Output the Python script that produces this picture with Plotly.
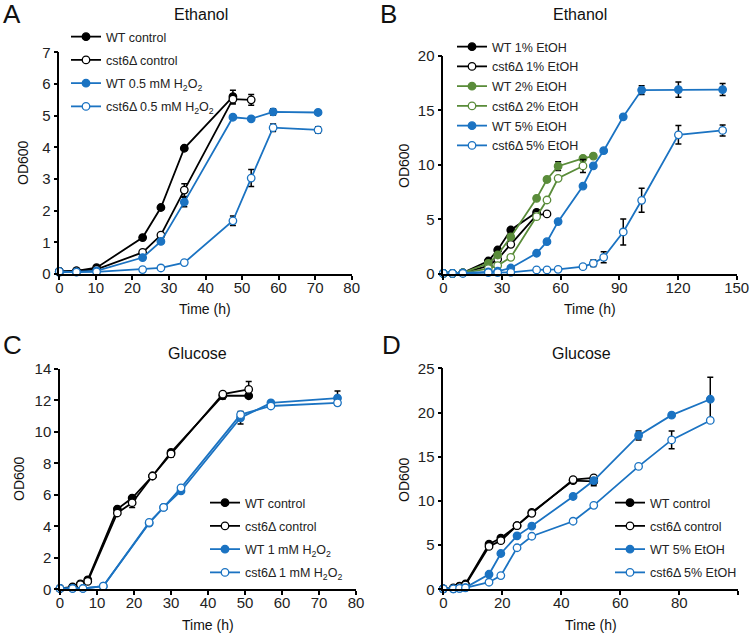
import plotly.graph_objects as go

# ---------------- data ----------------
# Panel A (Ethanol, H2O2)
tA_wt_ctrl = [0, 4.7, 10.2, 22.8, 27.8, 34.2, 47.5]
odA_wt_ctrl = [0.08, 0.1, 0.2, 1.15, 2.1, 3.97, 5.6]
eA_wt_ctrl = [0, 0, 0, 0, 0, 0, 0.2]
tA_cst_ctrl = [0, 4.7, 10.2, 22.8, 27.8, 34.2, 47.5, 52.5]
odA_cst_ctrl = [0.08, 0.1, 0.15, 0.68, 1.23, 2.65, 5.52, 5.5]
eA_cst_ctrl = [0, 0, 0, 0, 0, 0.2, 0.15, 0.17]
tA_h = [0, 4.7, 10.2, 22.8, 27.8, 34.2, 47.5, 52.5, 58.5, 70.8]
odA_wt_h = [0.05, 0.07, 0.1, 0.52, 1.03, 2.27, 4.95, 4.9, 5.12, 5.1]
eA_wt_h = [0, 0, 0, 0, 0, 0.15, 0, 0.05, 0.1, 0]
odA_cst_h = [0.08, 0.06, 0.07, 0.14, 0.19, 0.36, 1.68, 3.03, 4.62, 4.55]
eA_cst_h = [0, 0, 0, 0, 0, 0, 0.15, 0.27, 0.12, 0.1]

# Panel B (Ethanol, EtOH %)
tB = [0, 4.7, 10, 23, 27.8, 34.5, 47.7, 53, 58.7, 71.4, 76.7, 82, 92, 101.4, 120.2, 142.8]
odB_wt1 = [0.05, 0.05, 0.1, 1.19, 2.2, 4.03, 5.65]
odB_cst1 = [0.05, 0.05, 0.1, 0.75, 1.35, 2.72, 5.4, 5.5]
odB_wt2 = [0.05, 0.05, 0.1, 0.98, 1.74, 3.4, 6.93, 8.66, 9.88, 10.6, 10.8]
eB_wt2 = [0, 0, 0, 0, 0, 0, 0, 0, 0.4, 0, 0]
odB_cst2 = [0.05, 0.05, 0.1, 0.5, 0.77, 1.53, 5.25, 6.78, 8.77, 9.9]
eB_cst2 = [0, 0, 0, 0, 0, 0, 0, 0, 0, 0.6]
odB_wt5 = [0.05, 0.05, 0.1, 0.2, 0.25, 0.55, 1.9, 2.96, 4.8, 8.06, 9.9, 11.3, 14.4, 16.85, 16.9, 16.9]
eB_wt5 = [0, 0, 0, 0, 0, 0, 0, 0, 0, 0, 0, 0, 0, 0.4, 0.7, 0.55]
odB_cst5 = [0.05, 0.05, 0.05, 0.12, 0.12, 0.15, 0.37, 0.37, 0.43, 0.67, 0.98, 1.53, 3.85, 6.75, 12.75, 13.15]
eB_cst5 = [0, 0, 0, 0, 0, 0, 0, 0, 0, 0, 0.3, 0.5, 1.2, 1.1, 0.85, 0.5]

# Panel C (Glucose, H2O2)
tC_ctrl = [0, 3.4, 5.5, 7.5, 15.5, 19.5, 25, 30, 44, 51]
odC_wt_ctrl = [0.05, 0.15, 0.35, 0.6, 5.1, 5.8, 7.2, 8.7, 12.3, 12.3]
eC_wt_ctrl = [0, 0, 0, 0, 0, 0, 0, 0.15, 0.2, 0]
odC_cst_ctrl = [0.05, 0.1, 0.3, 0.5, 4.85, 5.5, 7.2, 8.6, 12.4, 12.7]
eC_cst_ctrl = [0, 0, 0, 0, 0, 0.3, 0, 0.2, 0, 0.5]
tC_h = [0, 3.4, 6.2, 11.7, 24.1, 28, 32.7, 48.8, 57, 75]
odC_wt_h = [0.05, 0.05, 0.05, 0.2, 4.2, 5.2, 6.25, 10.9, 11.85, 12.15]
eC_wt_h = [0, 0, 0, 0, 0, 0, 0, 0.4, 0, 0.45]
odC_cst_h = [0.05, 0.05, 0.05, 0.2, 4.25, 5.2, 6.45, 11.1, 11.65, 11.85]
eC_cst_h = [0, 0, 0, 0, 0, 0, 0, 0, 0, 0.15]

# Panel D (Glucose, 5% EtOH)
tD_ctrl = [0, 3.4, 5.5, 7.5, 15.5, 19.5, 25, 30, 44, 51]
odD_wt_ctrl = [0.05, 0.15, 0.35, 0.6, 5.1, 5.8, 7.2, 8.7, 12.3, 12.2]
eD_wt_ctrl = [0, 0, 0, 0, 0, 0, 0, 0, 0, 0.5]
odD_cst_ctrl = [0.05, 0.1, 0.3, 0.5, 4.85, 5.5, 7.2, 8.6, 12.4, 12.6]
tD_e = [0, 3.4, 5.5, 7.5, 15.5, 19.5, 25, 30, 44, 51, 66.2, 77.4, 90.5]
odD_wt_e = [0.05, 0.05, 0.1, 0.2, 1.7, 4.05, 6.05, 7.15, 10.5, 12.3, 17.4, 19.7, 21.5]
eD_wt_e = [0, 0, 0, 0, 0, 0, 0, 0, 0, 0, 0.5, 0, 2.5]
odD_cst_e = [0.05, 0.05, 0.1, 0.15, 0.8, 1.55, 4.7, 6.0, 7.7, 9.5, 13.9, 16.9, 19.1]
eD_cst_e = [0, 0, 0, 0, 0, 0, 0, 0, 0, 0, 0, 1.0, 0]

# ---------------- style ----------------
BLACK = "#000000"
BLUE = "#1b73c2"
GREEN = "#5a8c3a"
FONT = "Liberation Sans, Arial, sans-serif"
W, H = 750, 635

fig = go.Figure()
_gid = [0]


def add(x, y, name, color, filled, ax, legend, err=None):
    n = len(y)
    xs = x[:n]
    _gid[0] += 1
    tr = dict(
        x=xs, y=y, name=name, mode="lines+markers",
        line=dict(color=color, width=1.8),
        marker=dict(symbol="circle", size=7.5,
                    color=color if filled else "white",
                    line=dict(color=color, width=1.3)),
        xaxis="x" + ax, yaxis="y" + ax, legend=legend, cliponaxis=False,
        legendgroup="g%d" % _gid[0],
    )
    if err is not None:
        tr["error_y"] = dict(type="data", array=err, visible=True,
                             color=BLACK, thickness=1.5, width=3)
    fig.add_trace(go.Scatter(**tr))


H2O2 = "H<sub>2</sub>O<sub>2</sub>"
# A
add(tA_wt_ctrl, odA_wt_ctrl, "WT control", BLACK, True, "", "legend", eA_wt_ctrl)
add(tA_cst_ctrl, odA_cst_ctrl, "cst6Δ control", BLACK, False, "", "legend", eA_cst_ctrl)
add(tA_h, odA_wt_h, "WT 0.5 mM " + H2O2, BLUE, True, "", "legend", eA_wt_h)
add(tA_h, odA_cst_h, "cst6Δ 0.5 mM " + H2O2, BLUE, False, "", "legend", eA_cst_h)
# B
add(tB, odB_wt1, "WT 1% EtOH", BLACK, True, "2", "legend2")
add(tB, odB_cst1, "cst6Δ 1% EtOH", BLACK, False, "2", "legend2")
add(tB, odB_wt2, "WT 2% EtOH", GREEN, True, "2", "legend2", eB_wt2)
add(tB, odB_cst2, "cst6Δ 2% EtOH", GREEN, False, "2", "legend2", eB_cst2)
add(tB, odB_wt5, "WT 5% EtOH", BLUE, True, "2", "legend2", eB_wt5)
add(tB, odB_cst5, "cst6Δ 5% EtOH", BLUE, False, "2", "legend2", eB_cst5)
# C
add(tC_ctrl, odC_wt_ctrl, "WT control", BLACK, True, "3", "legend3", eC_wt_ctrl)
add(tC_ctrl, odC_cst_ctrl, "cst6Δ control", BLACK, False, "3", "legend3", eC_cst_ctrl)
add(tC_h, odC_wt_h, "WT 1 mM " + H2O2, BLUE, True, "3", "legend3", eC_wt_h)
add(tC_h, odC_cst_h, "cst6Δ 1 mM " + H2O2, BLUE, False, "3", "legend3", eC_cst_h)
# D
add(tD_ctrl, odD_wt_ctrl, "WT control", BLACK, True, "4", "legend4", eD_wt_ctrl)
add(tD_ctrl, odD_cst_ctrl, "cst6Δ control", BLACK, False, "4", "legend4")
add(tD_e, odD_wt_e, "WT 5% EtOH", BLUE, True, "4", "legend4", eD_wt_e)
add(tD_e, odD_cst_e, "cst6Δ 5% EtOH", BLUE, False, "4", "legend4", eD_cst_e)


def px_x(p):
    return p / W


def px_y(p):
    return 1 - p / H


def axis(domain, rng, dtick, anchor, is_x):
    d = dict(domain=domain, range=rng, dtick=dtick, tick0=0, anchor=anchor,
             showline=True, linecolor=BLACK, linewidth=1.5, mirror=False,
             ticks="outside", ticklen=4, tickwidth=1.5, tickcolor=BLACK,
             showgrid=False, zeroline=False, automargin=False,
             tickfont=dict(family=FONT, size=15, color="#222"))
    if is_x:
        d["ticklabelstandoff"] = -5
    return d


fig.update_layout(
    width=W, height=H, margin=dict(l=0, r=0, t=0, b=0, autoexpand=False),
    paper_bgcolor="white", plot_bgcolor="white",
    font=dict(family=FONT, color="#222"),
    xaxis=axis([px_x(59.3), px_x(351.7)], [0, 80], 10, "y", True),
    yaxis=axis([px_y(274), px_y(52.3)], [0, 7], 1, "x", False),
    xaxis2=axis([px_x(443.3), px_x(736.7)], [0, 150], 30, "y2", True),
    yaxis2=axis([px_y(274), px_y(55.7)], [0, 20], 5, "x2", False),
    xaxis3=axis([px_x(60), px_x(356)], [0, 80], 10, "y3", True),
    yaxis3=axis([px_y(589.3), px_y(369)], [0, 14], 2, "x3", False),
    xaxis4=axis([px_x(443.3), px_x(738.3)], [0, 100], 20, "y4", True),
    yaxis4=axis([px_y(589.3), px_y(368.3)], [0, 25], 5, "x4", False),
)

leg_common = dict(xanchor="left", yanchor="top", bgcolor="rgba(0,0,0,0)",
                  font=dict(family=FONT, size=12.5, color="#222"),
                  itemwidth=30, traceorder="grouped")
fig.update_layout(
    legend=dict(x=px_x(66), y=px_y(22), tracegroupgap=4, **leg_common),
    legend2=dict(x=px_x(452), y=px_y(32), tracegroupgap=0.5, **leg_common),
    legend3=dict(x=px_x(205), y=px_y(488), tracegroupgap=4, **leg_common),
    legend4=dict(x=px_x(610), y=px_y(488), tracegroupgap=4, **leg_common),
)

ann = []


def text(x, y, s, size, angle=0):
    ann.append(dict(x=px_x(x), y=px_y(y), xref="paper", yref="paper", text=s,
                    showarrow=False, textangle=angle, xanchor="center", yanchor="middle",
                    font=dict(family=FONT, size=size, color="#111")))


# panel letters
text(12, 14, "A", 26)
text(388, 14, "B", 26)
text(12, 345, "C", 26)
text(391, 345, "D", 26)
# titles
text(201, 14, "Ethanol", 16)
text(580, 14, "Ethanol", 16)
text(197, 353, "Glucose", 16)
text(581, 353, "Glucose", 16)
# axis titles
text(205, 309, "Time (h)", 14)
text(590, 309, "Time (h)", 14)
text(208, 625, "Time (h)", 14)
text(591, 625, "Time (h)", 14)
text(23, 163, "OD600", 14, -90)
text(404, 165, "OD600", 14, -90)
text(19, 479, "OD600", 14, -90)
text(404, 479, "OD600", 14, -90)
fig.update_layout(annotations=ann)

# remove the default page margin so the figure fills the 750x635 window exactly
fig.write_html("out.html", config={"displayModeBar": False},
               post_script="document.body.style.margin='0';document.body.style.overflow='hidden';")
